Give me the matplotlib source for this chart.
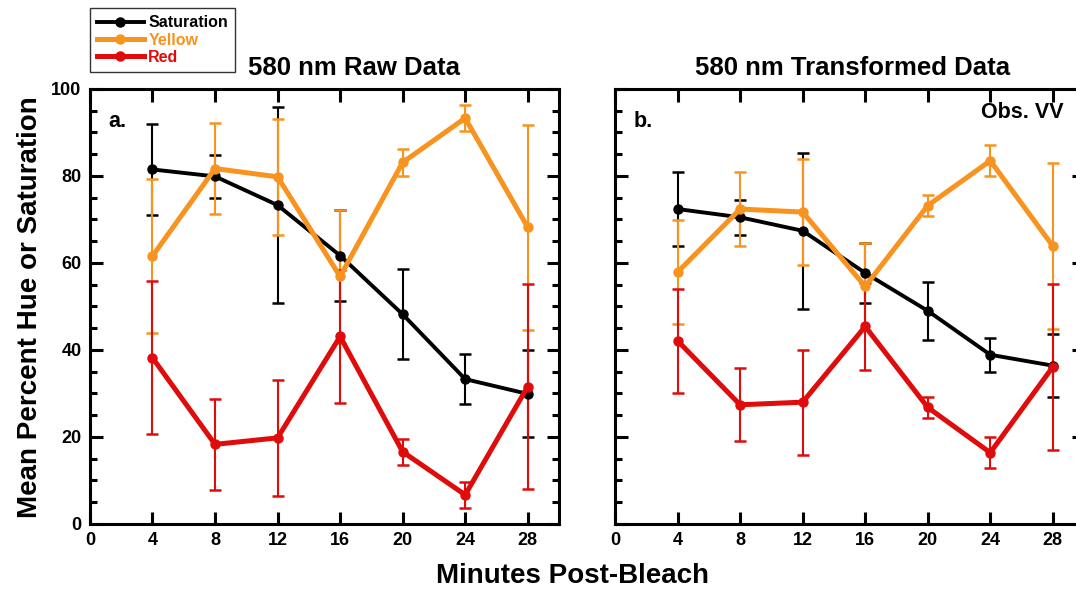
import numpy as np
import matplotlib
matplotlib.use("Agg")
import matplotlib.pyplot as plt
from matplotlib.ticker import MultipleLocator, FixedLocator

plt.rcParams['font.family'] = ['Liberation Sans', 'DejaVu Sans']
plt.rcParams['font.weight'] = 'bold'

# minutes post-bleach
minutes = [4, 8, 12, 16, 20, 24, 28]
x_ticks = [0, 4, 8, 12, 16, 20, 24, 28]

# panel a: raw data (mean, error)
raw_sat = [81.5, 79.9, 73.3, 61.7, 48.2, 33.3, 29.9]
raw_sat_err = [10.5, 5.0, 22.6, 10.5, 10.3, 5.8, 10.0]
raw_yel = [61.6, 81.7, 79.8, 56.9, 83.1, 93.3, 68.2]
raw_yel_err = [17.6, 10.4, 13.3, 15.2, 3.0, 3.0, 23.6]
raw_red = [38.2, 18.3, 19.8, 43.1, 16.6, 6.7, 31.6]
raw_red_err = [17.6, 10.4, 13.3, 15.2, 3.0, 3.0, 23.6]

# panel b: transformed data
tr_sat = [72.4, 70.5, 67.4, 57.7, 49.0, 38.9, 36.4]
tr_sat_err = [8.4, 4.0, 17.9, 6.8, 6.7, 3.9, 7.2]
tr_yel = [57.9, 72.4, 71.7, 54.6, 73.2, 83.5, 63.9]
tr_yel_err = [11.9, 8.4, 12.1, 9.9, 2.4, 3.6, 19.0]
tr_red = [42.1, 27.4, 28.0, 45.4, 26.8, 16.4, 36.1]
tr_red_err = [11.9, 8.4, 12.1, 9.9, 2.4, 3.6, 19.0]

BLACK = '#000000'
ORANGE = '#F8931F'
RED = '#E00B0B'

fig = plt.figure(figsize=(10.76, 5.9), dpi=100)
ax_a = fig.add_axes([0.0836, 0.1119, 0.4359, 0.7373])
ax_b = fig.add_axes([0.5716, 0.1119, 0.4359, 0.7373])


def draw_panel(ax, sat, sat_err, yel, yel_err, red, red_err, show_ylabels):
    handles = []
    for vals, errs, col, lw, lab in [(sat, sat_err, BLACK, 2.8, 'Saturation'),
                                     (yel, yel_err, ORANGE, 3.6, 'Yellow'),
                                     (red, red_err, RED, 3.6, 'Red')]:
        ax.errorbar(minutes, vals, yerr=errs, fmt='none', ecolor=col,
                    elinewidth=1.5, capsize=4, capthick=1.8, zorder=2)
        h, = ax.plot(minutes, vals, color=col, lw=lw, marker='o', ms=6.5,
                     zorder=3, label=lab)
        handles.append(h)
    ax.set_xlim(0, 30)
    ax.set_ylim(0, 100)
    ax.xaxis.set_major_locator(FixedLocator(x_ticks))
    ax.yaxis.set_major_locator(MultipleLocator(20))
    ax.yaxis.set_minor_locator(MultipleLocator(5))
    ax.tick_params(which='major', direction='in', length=9, width=2.2,
                   top=True, right=True, labelsize=13, pad=6)
    ax.tick_params(which='minor', direction='in', length=5, width=2.2,
                   right=True, left=True)
    for s in ax.spines.values():
        s.set_linewidth(2.2)
    if not show_ylabels:
        ax.set_yticklabels([])
    for lab in ax.get_xticklabels() + ax.get_yticklabels():
        lab.set_fontweight('bold')
    return handles


handles = draw_panel(ax_a, raw_sat, raw_sat_err, raw_yel, raw_yel_err,
                     raw_red, raw_red_err, True)
draw_panel(ax_b, tr_sat, tr_sat_err, tr_yel, tr_yel_err,
           tr_red, tr_red_err, False)

ax_a.text(0.04, 0.95, 'a.', transform=ax_a.transAxes, fontsize=15.5,
          fontweight='bold', va='top')
ax_b.text(0.04, 0.95, 'b.', transform=ax_b.transAxes, fontsize=15.5,
          fontweight='bold', va='top')
fig.text(1064 / 1076, 1 - 112 / 590, 'Obs. VV', fontsize=15.5,
         fontweight='bold', ha='right', va='center')

fig.text(354 / 1076, 1 - 68 / 590, '580 nm Raw Data', fontsize=18.5,
         fontweight='bold', ha='center', va='center')
fig.text(853 / 1076, 1 - 68 / 590, '580 nm Transformed Data', fontsize=18.5,
         fontweight='bold', ha='center', va='center')
fig.text(30 / 1076, 1 - 307 / 590, 'Mean Percent Hue or Saturation',
         fontsize=20, fontweight='bold', rotation=90, ha='center', va='center')
fig.text(573 / 1076, 1 - 576 / 590, 'Minutes Post-Bleach', fontsize=20,
         fontweight='bold', ha='center', va='center')

leg = fig.legend(handles=handles, loc='upper left',
                 bbox_to_anchor=(90 / 1076, 1 - 8 / 590),
                 prop={'weight': 'bold', 'size': 11.5}, frameon=True,
                 fancybox=False, edgecolor='black', handlelength=2.9,
                 handletextpad=0.3, labelspacing=0.15, borderpad=0.45,
                 borderaxespad=0)
leg.get_frame().set_linewidth(1.0)
for txt, col in zip(leg.get_texts(), [BLACK, ORANGE, RED]):
    txt.set_color(col)

fig.savefig('out.png', dpi=100)
